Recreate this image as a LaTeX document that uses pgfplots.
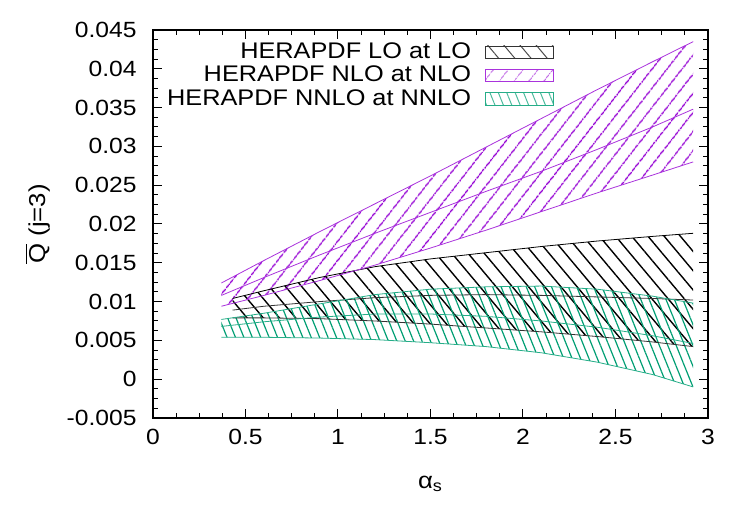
\documentclass[border=0pt]{standalone}
\usepackage{fontspec}
\setmainfont{Liberation Sans}[FakeStretch=1.12]
\usepackage{pgfplots}
\pgfplotsset{compat=1.18}
\usepackage{pgfplotstable}
\usepgfplotslibrary{fillbetween}
\usetikzlibrary{patterns.meta,calc}
\definecolor{nlo}{HTML}{9400D3}
\definecolor{nnlo}{HTML}{009E73}

\pgfplotstableread{
x     top     mid     bot
0.43  0.0104  0.0089  0.0079
0.60  0.0114  0.0094  0.0079
0.90  0.0131  0.0100  0.0078
1.20  0.0145  0.0105  0.0075
1.50  0.0155  0.0108  0.0071
1.80  0.0163  0.0109  0.0066
2.10  0.0171  0.0108  0.0061
2.40  0.0178  0.0106  0.0055
2.70  0.0184  0.0104  0.0048
2.92  0.0188  0.0102  0.0042
}\LO

\pgfplotstableread{
x     top     mid     bot
0.37  0.0124  0.0108  0.0094
0.60  0.0153  0.0131  0.0108
0.90  0.0190  0.0160  0.0127
1.20  0.0226  0.0188  0.0147
1.50  0.0262  0.0215  0.0169
1.80  0.0299  0.0242  0.0192
2.10  0.0336  0.0268  0.0216
2.40  0.0373  0.0296  0.0240
2.70  0.0409  0.0325  0.0263
2.92  0.0435  0.0348  0.0280
}\NLO

\pgfplotstableread{
x     top     mid     bot
0.37  0.0077  0.0068  0.0054
0.60  0.0085  0.0074  0.0054
0.90  0.0097  0.0080  0.0053
1.20  0.0109  0.0084  0.0051
1.50  0.0116  0.0084  0.0047
1.80  0.0119  0.0081  0.0042
2.10  0.0120  0.0075  0.0034
2.40  0.0116  0.0067  0.0022
2.70  0.0107  0.0056  0.0006
2.92  0.0098  0.0046  -0.0010
}\NNLO

\begin{document}
\begin{tikzpicture}[font=\fontsize{11}{13}\selectfont]
\begin{axis}[
  scale only axis, width=277.5pt, height=194pt,
  xmin=0, xmax=3, ymin=-0.005, ymax=0.045,
  xtick={0,0.5,1,1.5,2,2.5,3},
  xticklabels={0,0.5,1,1.5,2,2.5,3},
  ytick={-0.005,0,0.005,0.01,0.015,0.02,0.025,0.03,0.035,0.04,0.045},
  yticklabels={-0.005,0,0.005,0.01,0.015,0.02,0.025,0.03,0.035,0.04,0.045},
  scaled y ticks=false,
  minor x tick num=3, minor y tick num=3,
  tick align=inside, tick pos=both,
  major tick length=4.5pt, minor tick length=2.3pt,
  every tick/.style={black, line width=0.5pt},
  axis line style={line width=0.9pt},
  tick label style={font=\fontsize{11}{13}\selectfont},
  xticklabel style={yshift=-2pt},
  yticklabel style={xshift=-4.7pt},
  xlabel={α\textsubscript{s}},
  ylabel={$\overline{\mbox{Q}}$ (j=3)},
  label style={font=\fontsize{11.5}{13}\selectfont},
  xlabel style={at={(axis description cs:0.5,-0.17)}, anchor=center},
  ylabel style={at={(axis description cs:-0.208,0.5)}, anchor=center},
  legend style={at={(rel axis cs:0.7225,0.967)}, anchor=north east,
    draw=none, fill=none, inner sep=0pt, outer sep=0pt,
    row sep=2.3pt, column sep=7pt, nodes={inner sep=0pt},
    font=\fontsize{11.3}{13}\selectfont},
  legend plot pos=right, legend cell align=right,
]
% LO
\addplot[forget plot, name path=LOt, draw=black, line width=0.4pt] table[x=x,y=top]{\LO};
\addplot[forget plot, draw=black!80, line width=0.4pt] table[x=x,y=mid]{\LO};
\addplot[forget plot, name path=LOb, draw=black!80, line width=0.4pt] table[x=x,y=bot]{\LO};
\addplot[forget plot, draw=none, pattern={Lines[angle=-50,distance=6.2pt,line width=0.7pt]}, pattern color=black] fill between[of=LOt and LOb];
% NLO
\addplot[forget plot, name path=NLOt, draw=nlo!80, line width=0.4pt] table[x=x,y=top]{\NLO};
\addplot[forget plot, draw=nlo!80, line width=0.4pt] table[x=x,y=mid]{\NLO};
\addplot[forget plot, name path=NLOb, draw=nlo!80, line width=0.4pt] table[x=x,y=bot]{\NLO};
\addplot[forget plot, draw=none, pattern={Lines[angle=52,distance=6.4pt,line width=0.75pt]}, pattern color=nlo] fill between[of=NLOt and NLOb];
% NNLO
\addplot[forget plot, name path=NNLOt, draw=nnlo!85, line width=0.4pt] table[x=x,y=top]{\NNLO};
\addplot[forget plot, draw=nnlo!85, line width=0.4pt] table[x=x,y=mid]{\NNLO};
\addplot[forget plot, name path=NNLOb, draw=nnlo!85, line width=0.4pt] table[x=x,y=bot]{\NNLO};
\addplot[forget plot, draw=none, pattern={Lines[angle=-68,distance=3.9pt,line width=0.6pt]}, pattern color=nnlo] fill between[of=NNLOt and NNLOb];

\addlegendimage{legend image code/.code={\draw[draw=black!80, line width=0.4pt, pattern={Lines[angle=-50,distance=6.2pt,line width=0.5pt]}, pattern color=black!70] (0pt,-3.1pt) rectangle (34pt,3.1pt);}}
\addlegendentry{HERAPDF LO at LO}
\addlegendimage{legend image code/.code={\draw[draw=nlo!80, line width=0.4pt, pattern={Lines[angle=52,distance=6.4pt,line width=0.5pt]}, pattern color=nlo!60] (0pt,-3.1pt) rectangle (34pt,3.1pt);}}
\addlegendentry{HERAPDF NLO at NLO}
\addlegendimage{legend image code/.code={\draw[draw=nnlo!85, line width=0.4pt, pattern={Lines[angle=-68,distance=3.9pt,line width=0.5pt]}, pattern color=nnlo!70] (0pt,-3.1pt) rectangle (34pt,3.1pt);}}
\addlegendentry{HERAPDF NNLO at NNLO}
\end{axis}
\pgfresetboundingbox
\path[use as bounding box] ($(current axis.south west)+(-76.5pt,-53.5pt)$) rectangle ($(current axis.north east)+(21pt,15pt)$);
\end{tikzpicture}
\end{document}
